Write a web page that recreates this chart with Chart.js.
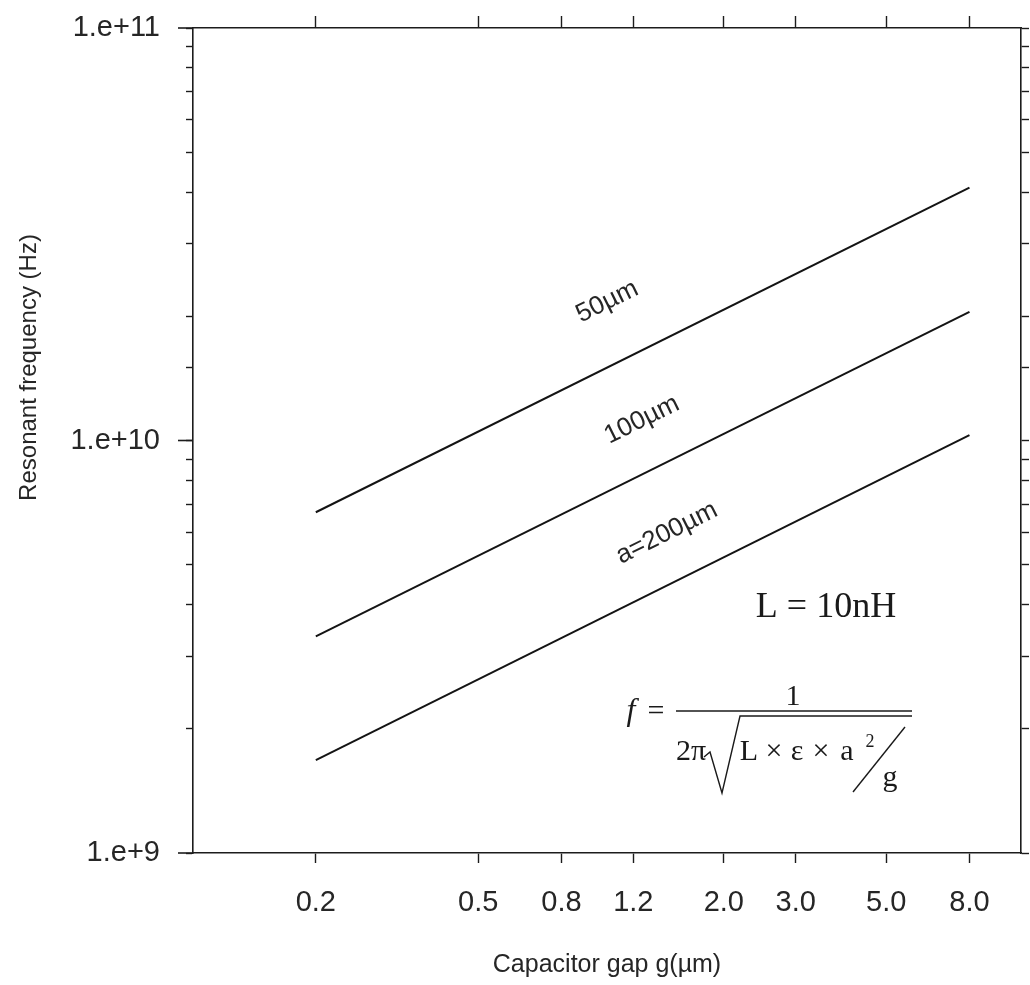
<!DOCTYPE html>
<html>
<head>
<meta charset="utf-8">
<title>Resonant frequency vs capacitor gap</title>
<script src="https://cdn.jsdelivr.net/npm/chart.js@4.4.0/dist/chart.umd.min.js"></script>
<style>
    html, body { margin: 0; padding: 0; background: #ffffff; }
    #wrap { width: 1030px; height: 985px; }
</style>
</head>
<body>
<div id="wrap"><canvas id="freqChart" width="1030" height="985"></canvas></div>
<script>
// Capacitor gap g (µm) at both ends of each curve
const gapValues = [0.2, 8.0];

// Resonant frequency (Hz) for each pad size a, L = 10nH
const freq50 = [6.7e9, 4.1e10];
const freq100 = [3.35e9, 2.05e10];
const freq200 = [1.68e9, 1.03e10];
const seriesLabels = ["50µm", "100µm", "a=200µm"];

// Axis ticks
const gapTicks = [0.2, 0.5, 0.8, 1.2, 2.0, 3.0, 5.0, 8.0];
const gapTickLabels = ["0.2", "0.5", "0.8", "1.2", "2.0", "3.0", "5.0", "8.0"];
const freqTicks = [1e9, 1e10, 1e11];
const freqTickLabels = ["1.e+9", "1.e+10", "1.e+11"];

const axisColor = "#1c1c1c";
const textColor = "#262626";
const sans = "'Liberation Sans', Arial, sans-serif";
const serif = "'Liberation Serif', 'Times New Roman', serif";

// where each curve label sits: fraction along the curve, distance above it
const labelAt = [0.486, 0.532, 0.569];
const labelGap = [59, 49, 47];

function freqLabel(value) {
    const i = freqTicks.findIndex((v) => Math.abs(Math.log10(v) - Math.log10(value)) < 1e-6);
    return i >= 0 ? freqTickLabels[i] : "";
}

function useGapTicks(scale) {
    scale.ticks = gapTicks.map((v) => ({ value: v }));
}

// fixed axis sizes so the plot box keeps its place; no extra room for label overhang
function fixSize(size) {
    return (scale) => {
        if (scale.isHorizontal()) {
            scale.height = size;
        } else {
            scale.width = size;
        }
        scale.paddingTop = 0;
        scale.paddingBottom = 0;
        scale.paddingLeft = 0;
        scale.paddingRight = 0;
    };
}

// Curve labels, decade marks, y title and the formula box
const figureText = {
    id: "figureText",
    afterDraw(chart) {
        const { ctx, chartArea, scales } = chart;
        const xs = scales.x;
        const ys = scales.y;

        ctx.save();
        ctx.strokeStyle = axisColor;
        ctx.lineWidth = 1.6;
        freqTicks.forEach((v) => {
            const py = ys.getPixelForValue(v);
            ctx.beginPath();
            ctx.moveTo(chartArea.left - 15, py);
            ctx.lineTo(chartArea.left, py);
            ctx.stroke();
        });
        ctx.restore();

        // y axis title
        ctx.save();
        ctx.fillStyle = textColor;
        ctx.font = "24px " + sans;
        ctx.textAlign = "center";
        ctx.textBaseline = "middle";
        ctx.translate(29, (chartArea.top + chartArea.bottom) / 2 - 73);
        ctx.rotate(-Math.PI / 2);
        ctx.fillText("Resonant frequency (Hz)", 0, 0);
        ctx.restore();

        // labels along each curve
        [freq50, freq100, freq200].forEach((vals, i) => {
            const last = gapValues.length - 1;
            const x0 = xs.getPixelForValue(gapValues[0]);
            const y0 = ys.getPixelForValue(vals[0]);
            const x1 = xs.getPixelForValue(gapValues[last]);
            const y1 = ys.getPixelForValue(vals[last]);
            const ang = Math.atan2(y1 - y0, x1 - x0);
            const px = x0 + (x1 - x0) * labelAt[i] + Math.sin(ang) * labelGap[i];
            const py = y0 + (y1 - y0) * labelAt[i] - Math.cos(ang) * labelGap[i];
            ctx.save();
            ctx.fillStyle = textColor;
            ctx.font = "26px " + sans;
            ctx.textAlign = "center";
            ctx.textBaseline = "middle";
            ctx.translate(px, py);
            ctx.rotate(ang);
            ctx.fillText(seriesLabels[i], 0, 0);
            ctx.restore();
        });

        // L = 10nH
        ctx.save();
        ctx.fillStyle = "#1a1a1a";
        ctx.font = "36px " + serif;
        ctx.textAlign = "center";
        ctx.textBaseline = "middle";
        ctx.fillText("L = 10nH", chartArea.right - 195, chartArea.bottom - 245);
        ctx.restore();

        // f = 1 / (2π sqrt(L × ε × a² / g))
        const fx = chartArea.right - 345;
        const fy = chartArea.bottom - 142;
        ctx.save();
        ctx.fillStyle = "#1a1a1a";
        ctx.strokeStyle = "#1a1a1a";
        ctx.textBaseline = "alphabetic";
        ctx.textAlign = "center";
        ctx.font = "italic 32px " + serif;
        ctx.fillText("f", fx - 45, fy + 9);
        ctx.font = "30px " + serif;
        ctx.fillText("=", fx - 20, fy + 9);
        ctx.fillText("1", fx + 117, fy - 6);
        ctx.fillText("2π", fx + 15, fy + 49);
        ctx.fillText("L", fx + 73, fy + 49);
        ctx.fillText("×", fx + 98, fy + 49);
        ctx.fillText("ε", fx + 121, fy + 49);
        ctx.fillText("×", fx + 145, fy + 49);
        ctx.fillText("a", fx + 171, fy + 49);
        ctx.fillText("g", fx + 214, fy + 75);
        ctx.font = "18px " + serif;
        ctx.fillText("2", fx + 194, fy + 36);

        ctx.lineWidth = 1.6;
        ctx.beginPath();
        ctx.moveTo(fx, fy);
        ctx.lineTo(fx + 236, fy);
        ctx.stroke();

        ctx.lineWidth = 1.4;
        ctx.beginPath();
        ctx.moveTo(fx + 28, fy + 46);
        ctx.lineTo(fx + 34, fy + 41);
        ctx.lineTo(fx + 46, fy + 82);
        ctx.lineTo(fx + 64, fy + 5);
        ctx.lineTo(fx + 236, fy + 5);
        ctx.stroke();

        ctx.beginPath();
        ctx.moveTo(fx + 177, fy + 81);
        ctx.lineTo(fx + 229, fy + 16);
        ctx.stroke();
        ctx.restore();
    },
};

const lineStyle = {
    borderColor: "#141414",
    borderWidth: 2,
    pointRadius: 0,
    showLine: true,
    fill: false,
};

new Chart(document.getElementById("freqChart"), {
    type: "scatter",
    data: {
        datasets: [
            { label: seriesLabels[0], data: gapValues.map((g, i) => ({ x: g, y: freq50[i] })), ...lineStyle },
            { label: seriesLabels[1], data: gapValues.map((g, i) => ({ x: g, y: freq100[i] })), ...lineStyle },
            { label: seriesLabels[2], data: gapValues.map((g, i) => ({ x: g, y: freq200[i] })), ...lineStyle },
        ],
    },
    options: {
        responsive: false,
        animation: false,
        devicePixelRatio: 1,
        layout: { padding: 0 },
        plugins: {
            legend: { display: false },
            tooltip: { enabled: false },
        },
        scales: {
            x: {
                type: "logarithmic",
                position: "bottom",
                min: 0.1,
                max: 10.7,
                afterBuildTicks: useGapTicks,
                afterFit: fixSize(132),
                border: { color: axisColor, width: 1.6 },
                grid: { drawOnChartArea: false, tickLength: 10, tickColor: axisColor, tickWidth: 1.4 },
                ticks: {
                    autoSkip: false,
                    maxRotation: 0,
                    padding: 23,
                    color: textColor,
                    font: { family: sans, size: 29 },
                    callback: (value, index) => gapTickLabels[index],
                },
                title: {
                    display: true,
                    text: "Capacitor gap g(µm)",
                    color: textColor,
                    font: { family: sans, size: 25 },
                    padding: { top: 0, bottom: 5 },
                },
            },
            xTop: {
                type: "logarithmic",
                position: "top",
                min: 0.1,
                max: 10.7,
                afterBuildTicks: useGapTicks,
                afterFit: fixSize(28),
                border: { color: axisColor, width: 1.6 },
                grid: { drawOnChartArea: false, tickLength: 12, tickColor: axisColor, tickWidth: 1.4 },
                ticks: { display: false },
            },
            y: {
                type: "logarithmic",
                position: "left",
                min: 1e9,
                max: 1e11,
                afterFit: fixSize(193),
                border: { color: axisColor, width: 1.6 },
                grid: { drawOnChartArea: false, tickLength: 7, tickColor: axisColor, tickWidth: 1.4 },
                ticks: {
                    autoSkip: false,
                    padding: 26,
                    color: textColor,
                    font: { family: sans, size: 29 },
                    callback: (value) => freqLabel(value),
                },
            },
            yRight: {
                type: "logarithmic",
                position: "right",
                min: 1e9,
                max: 1e11,
                afterFit: fixSize(9),
                border: { color: axisColor, width: 1.6 },
                grid: { drawOnChartArea: false, tickLength: 8, tickColor: axisColor, tickWidth: 1.4 },
                ticks: { display: false },
            },
        },
    },
    plugins: [figureText],
});
</script>
</body>
</html>
